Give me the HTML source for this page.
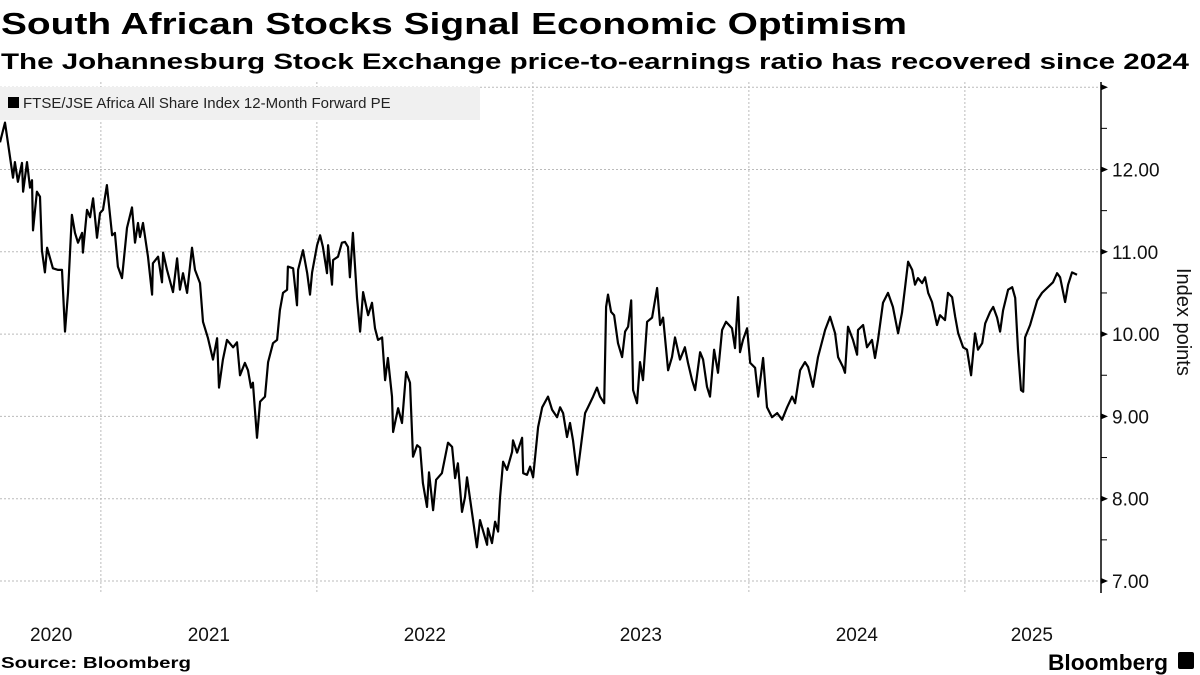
<!DOCTYPE html>
<html><head><meta charset="utf-8"><style>
html,body{margin:0;padding:0;background:#fff;}
svg{display:block;font-family:"Liberation Sans",sans-serif;}
</style></head><body>
<svg id="chart" width="1200" height="675" viewBox="0 0 1200 675" xmlns="http://www.w3.org/2000/svg">
<text x="1" y="34" font-size="31" font-weight="bold" textLength="906" lengthAdjust="spacingAndGlyphs">South African Stocks Signal Economic Optimism</text>
<text x="1" y="69" font-size="22" font-weight="bold" textLength="1188" lengthAdjust="spacingAndGlyphs">The Johannesburg Stock Exchange price-to-earnings ratio has recovered since 2024</text>
<g id="grid"></g>
<g id="axes"></g>
<g>
<rect x="0" y="87" width="480" height="33" fill="#f0f0f0"/>
<rect x="8" y="97" width="11" height="11" fill="#000"/>
<text x="23" y="108" font-size="15" fill="#222">FTSE/JSE Africa All Share Index 12-Month Forward PE</text>
</g>
<path id="line" fill="none" stroke="#000" stroke-width="2.2" stroke-linejoin="round"/>
<text transform="translate(1177,268) rotate(90)" font-size="20" fill="#111">Index points</text>
<text x="1" y="668" font-size="16" font-weight="bold" textLength="190" lengthAdjust="spacingAndGlyphs">Source: Bloomberg</text>
<text x="1048" y="670" font-size="22" font-weight="bold" textLength="120" lengthAdjust="spacingAndGlyphs">Bloomberg</text>
<rect x="1178" y="652" width="16" height="17" rx="2" fill="#000"/>
</svg>
<script>
const yTicks = [7, 8, 9, 10, 11, 12, 13];
const yTickLabels = ["7.00","8.00","9.00","10.00","11.00","12.00",""];
const yearLabels = ["2020","2021","2022","2023","2024","2025"];
const yearLabelPos = [2020.77, 2021.5, 2022.5, 2023.5, 2024.5, 2025.31];
const yearBounds = [2021, 2022, 2023, 2024, 2025];
const dates = [2020.533,2020.556,2020.570,2020.593,2020.602,2020.616,2020.635,2020.640,2020.658,2020.672,2020.681,2020.686,2020.704,2020.718,2020.727,2020.741,2020.751,2020.778,2020.802,2020.820,2020.834,2020.848,2020.866,2020.880,2020.894,2020.913,2020.917,2020.936,2020.950,2020.964,2020.982,2020.996,
2021.010,2021.028,2021.052,2021.065,2021.079,2021.098,2021.121,2021.144,2021.158,2021.172,2021.181,2021.195,2021.218,2021.237,2021.241,2021.265,2021.283,2021.288,2021.306,2021.334,2021.353,2021.366,2021.380,2021.399,2021.422,2021.436,2021.459,2021.473,2021.496,2021.519,2021.538,2021.547,2021.565,2021.584,2021.612,2021.630,2021.644,2021.667,2021.681,2021.695,2021.704,2021.723,2021.737,2021.760,2021.774,2021.797,2021.816,2021.829,2021.843,2021.862,2021.866,2021.890,2021.908,2021.913,2021.936,2021.955,2021.968,2021.978,
2022.001,2022.015,2022.028,2022.047,2022.052,2022.070,2022.075,2022.098,2022.116,2022.130,2022.144,2022.153,2022.167,2022.186,2022.200,2022.214,2022.237,2022.255,2022.269,2022.283,2022.302,2022.316,2022.329,2022.348,2022.353,2022.376,2022.394,2022.413,2022.431,2022.445,2022.464,2022.478,2022.491,2022.510,2022.519,2022.538,2022.552,2022.579,2022.607,2022.626,2022.640,2022.653,2022.672,2022.686,2022.695,2022.718,2022.741,2022.755,2022.788,2022.792,2022.811,2022.825,2022.839,2022.848,2022.862,2022.880,2022.904,2022.908,2022.927,2022.950,2022.955,2022.973,2022.987,
2023.001,2023.024,2023.043,2023.070,2023.089,2023.112,2023.126,2023.140,2023.158,2023.172,2023.186,2023.205,2023.219,2023.242,2023.255,2023.279,2023.297,2023.311,2023.330,2023.339,2023.348,2023.362,2023.376,2023.394,2023.413,2023.427,2023.441,2023.455,2023.464,2023.482,2023.496,2023.510,2023.529,2023.552,2023.575,2023.589,2023.603,2023.626,2023.644,2023.658,2023.681,2023.704,2023.718,2023.737,2023.751,2023.774,2023.788,2023.806,2023.820,2023.839,2023.857,2023.876,2023.894,2023.922,2023.936,2023.950,2023.959,2023.973,2023.992,
2024.006,2024.029,2024.043,2024.066,2024.084,2024.107,2024.131,2024.154,2024.177,2024.200,2024.214,2024.237,2024.260,2024.274,2024.297,2024.320,2024.353,2024.376,2024.399,2024.413,2024.436,2024.445,2024.459,2024.482,2024.501,2024.505,2024.529,2024.547,2024.570,2024.584,2024.598,2024.621,2024.644,2024.667,2024.691,2024.709,2024.723,2024.737,2024.756,2024.769,2024.783,2024.802,2024.816,2024.830,2024.848,2024.871,2024.885,2024.908,2024.922,2024.941,2024.955,2024.969,2024.992,
2025.010,2025.029,2025.047,2025.061,2025.080,2025.094,2025.117,2025.131,2025.149,2025.163,2025.177,2025.200,2025.219,2025.233,2025.246,2025.260,2025.270,2025.279,2025.302,2025.335,2025.357,2025.380,2025.408,2025.427,2025.441,2025.464,2025.478,2025.496,2025.519];
const peValues = [12.33,12.57,12.32,11.90,12.09,11.85,12.08,11.73,12.09,11.78,11.87,11.26,11.73,11.67,11.02,10.75,11.05,10.80,10.78,10.78,10.03,10.50,11.45,11.23,11.11,11.23,10.99,11.51,11.42,11.65,11.17,11.47,
11.51,11.81,11.20,11.23,10.82,10.68,11.29,11.54,11.11,11.35,11.18,11.35,10.94,10.48,10.86,10.94,10.63,10.99,10.78,10.51,10.92,10.54,10.74,10.50,11.05,10.78,10.62,10.15,9.95,9.69,9.95,9.35,9.69,9.93,9.84,9.90,9.50,9.65,9.56,9.35,9.41,8.74,9.18,9.24,9.66,9.89,9.93,10.29,10.50,10.54,10.82,10.80,10.35,10.78,11.02,10.74,10.48,10.75,
11.08,11.20,11.06,10.74,11.08,10.60,10.90,10.94,11.11,11.12,11.06,10.69,11.23,10.44,10.03,10.51,10.23,10.38,10.07,9.93,9.96,9.44,9.71,9.24,8.81,9.10,8.92,9.54,9.41,8.51,8.65,8.62,8.19,7.90,8.32,7.86,8.23,8.31,8.68,8.63,8.25,8.43,7.84,8.02,8.26,7.83,7.41,7.74,7.44,7.64,7.46,7.72,7.60,8.01,8.45,8.35,8.57,8.71,8.56,8.74,8.31,8.29,8.39,
8.26,8.87,9.11,9.24,9.08,8.99,9.11,9.04,8.75,8.92,8.71,8.29,8.57,9.04,9.11,9.24,9.35,9.24,9.16,10.33,10.48,10.27,10.23,9.89,9.72,10.03,10.09,10.41,9.32,9.16,9.66,9.44,10.15,10.20,10.56,10.11,10.20,9.56,9.72,9.96,9.69,9.84,9.65,9.44,9.32,9.78,9.69,9.36,9.24,9.81,9.53,10.05,10.15,10.07,9.83,10.45,9.78,9.93,10.07,
9.65,9.59,9.24,9.71,9.11,8.99,9.04,8.96,9.11,9.24,9.16,9.56,9.66,9.60,9.36,9.72,10.05,10.21,10.01,9.72,9.60,9.53,10.09,9.93,9.75,10.05,10.11,9.84,9.93,9.71,9.93,10.38,10.50,10.33,10.01,10.26,10.56,10.88,10.78,10.60,10.68,10.62,10.69,10.50,10.39,10.11,10.23,10.17,10.50,10.45,10.21,10.01,9.84,
9.81,9.50,10.01,9.81,9.89,10.13,10.27,10.33,10.20,10.03,10.29,10.54,10.57,10.44,9.81,9.32,9.30,9.96,10.11,10.41,10.50,10.56,10.63,10.74,10.69,10.39,10.60,10.75,10.72];

const NS = "http://www.w3.org/2000/svg";
const plotTop = 82, plotBottom = 593, axisX = 1101;
function xScale(t){ return (t - 2020.533) * 216; }
function yScale(v){ return 581 - (v - 7) * 82.3; }
function mk(tag, attrs, parent){ const e = document.createElementNS(NS, tag); for (const k in attrs) e.setAttribute(k, attrs[k]); parent.appendChild(e); return e; }

const grid = document.getElementById('grid');
const axes = document.getElementById('axes');
yTicks.forEach((v, i) => {
  const y = yScale(v);
  const gl = mk('line', {x1:0, x2:axisX, y1:y, y2:y, stroke:'#bbb', 'stroke-width':1, 'stroke-dasharray':'2,2'}, grid);
  
  
  const tk = mk('path', {d:`M${axisX},${y-3} L${axisX+7},${y} L${axisX},${y+3}Z`, fill:'#000'}, axes);
  
  
  if (yTickLabels[i]) {
    const tl = mk('text', {x:axisX+11, y:y+7, 'font-size':19, fill:'#111'}, axes);
    tl.textContent = yTickLabels[i];
    
    
  }
  if (v < 13) {
    const my = yScale(v + 0.5);
    const mt = mk('line', {x1:axisX, x2:axisX+6, y1:my, y2:my, stroke:'#000', 'stroke-width':1}, axes);
    
    
  }
});
yearBounds.forEach(t => {
  const x = xScale(t);
  const vl = mk('line', {x1:x, x2:x, y1:plotTop, y2:plotBottom, stroke:'#bbb', 'stroke-width':1, 'stroke-dasharray':'2,2'}, grid);
  
  
});
yearLabels.forEach((lab, i) => {
  const t = mk('text', {x:xScale(yearLabelPos[i]), y:641, 'font-size':19, 'text-anchor':'middle', fill:'#111'}, axes);
  t.textContent = lab;
  
  
});
const ax = mk('line', {x1:axisX, x2:axisX, y1:plotTop, y2:plotBottom, stroke:'#000', 'stroke-width':1.5}, axes);



let d = '';
dates.forEach((t, i) => { d += (i ? 'L' : 'M') + xScale(t).toFixed(1) + ',' + yScale(peValues[i]).toFixed(1); });
document.getElementById('line').setAttribute('d', d);
</script>
</body></html>
